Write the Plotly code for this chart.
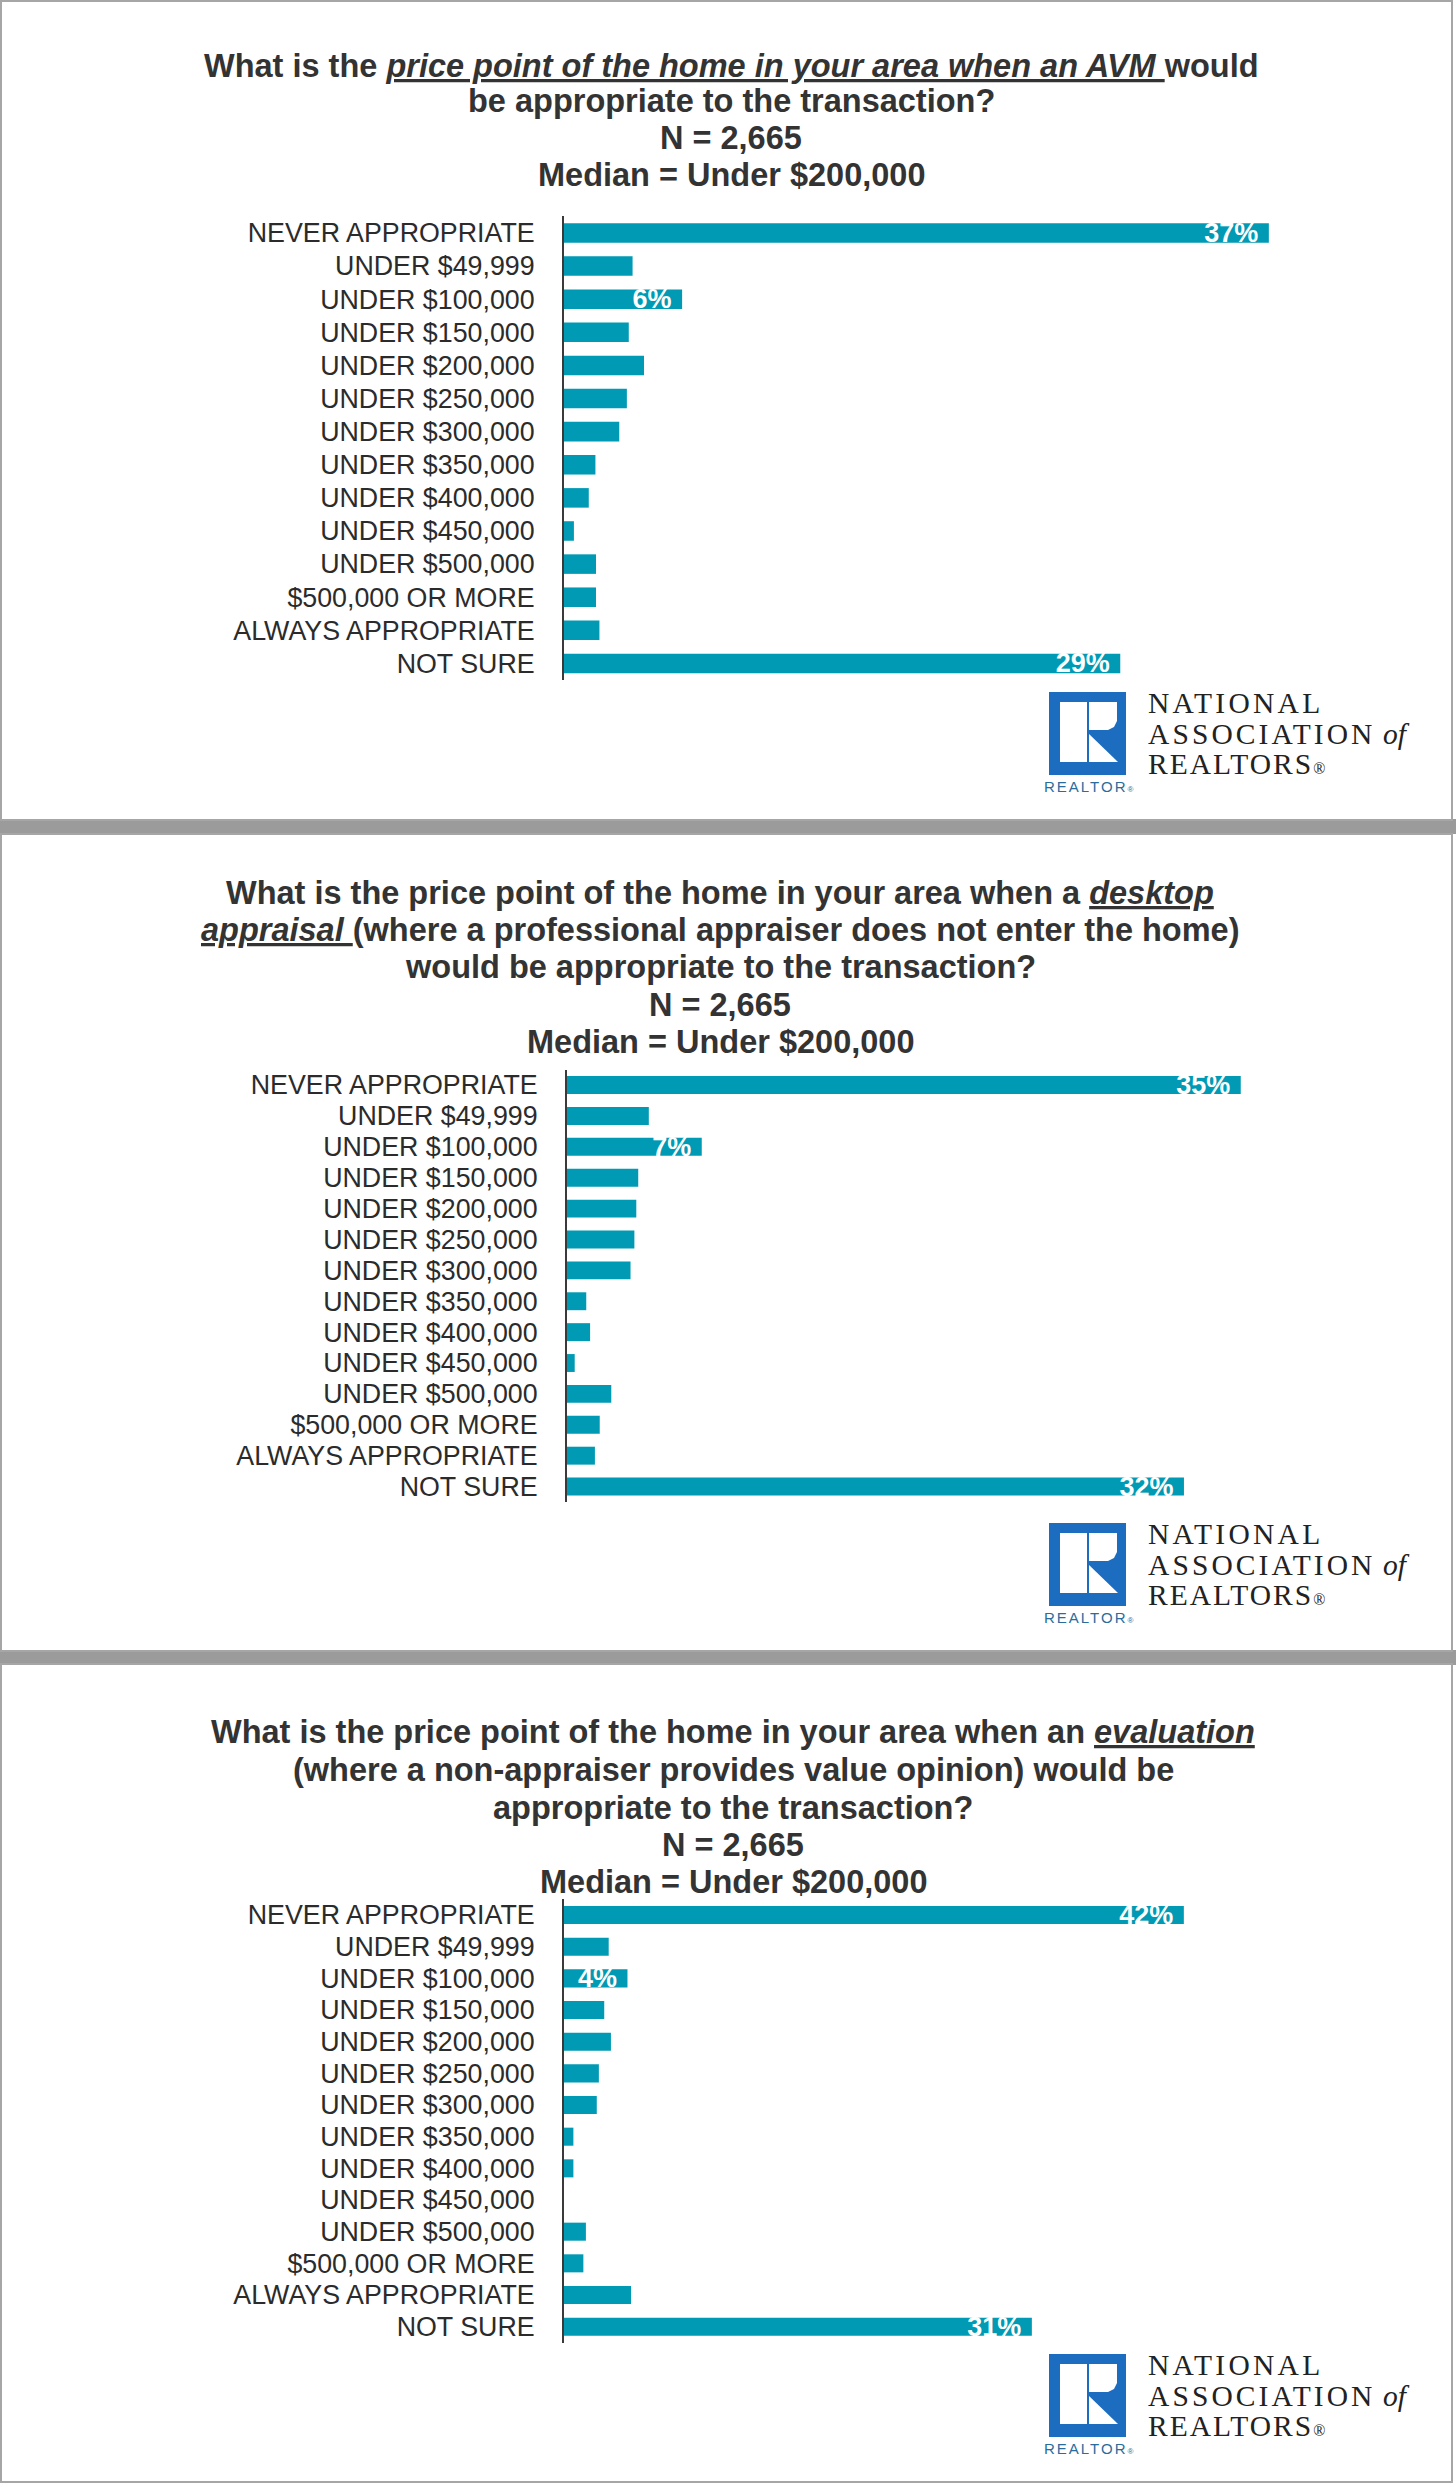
import plotly.graph_objects as go

W, H = 1456, 2485

# ---------------- data ----------------
categories = [
    "NEVER APPROPRIATE", "UNDER $49,999", "UNDER $100,000", "UNDER $150,000",
    "UNDER $200,000", "UNDER $250,000", "UNDER $300,000", "UNDER $350,000",
    "UNDER $400,000", "UNDER $450,000", "UNDER $500,000", "$500,000 OR MORE",
    "ALWAYS APPROPRIATE", "NOT SURE",
]
avm_values = [37.0, 3.6, 6.2, 3.4, 4.2, 3.3, 2.9, 1.65, 1.3, 0.52, 1.68, 1.68, 1.86, 29.2]
desktop_values = [35.0, 4.25, 7.0, 3.7, 3.6, 3.5, 3.3, 1.0, 1.2, 0.4, 2.3, 1.7, 1.45, 32.05]
evaluation_values = [41.6, 3.0, 4.26, 2.7, 3.15, 2.34, 2.2, 0.63, 0.63, 0.0, 1.47, 1.3, 4.5, 31.4]
labeled_categories = ["NEVER APPROPRIATE", "UNDER $100,000", "NOT SURE"]

title_avm = [
    "What is the <i><u>price point of the home in your area when an AVM </u></i>would",
    "be appropriate to the transaction?",
    "N = 2,665",
    "Median = Under $200,000",
]
title_desktop = [
    "What is the price point of the home in your area when a <i><u>desktop</u></i>",
    "<i><u>appraisal </u></i>(where a professional appraiser does not enter the home)",
    "would be appropriate to the transaction?",
    "N = 2,665",
    "Median = Under $200,000",
]
title_evaluation = [
    "What is the price point of the home in your area when an <i><u>evaluation</u></i>",
    "(where a non-appraiser provides value opinion) would be",
    "appropriate to the transaction?",
    "N = 2,665",
    "Median = Under $200,000",
]

# ---------------- styling / layout ----------------
BAR = "#009AB4"
TXT = "#333333"
LBL = "#2b2b2b"
BORDER = "#a6a6a6"
BAND = "#9b9b9b"
LOGO_BLUE = "#1C6DBF"
XMAX = 45


def px(x):
    return x / W


def py(y):
    return 1 - y / H


panels = [
    dict(values=avm_values, title=title_avm, cx=731,
         lines_y=[65.5, 101.5, 138, 175],
         x0=564, scale=19.05, ydom=(216.4, 680), barw=0.59,
         box=(1, 820), logo_top=692),
    dict(values=desktop_values, title=title_desktop, cx=720,
         lines_y=[893, 930, 967, 1005, 1042],
         x0=567, scale=19.25, ydom=(1069.6, 1502), barw=0.58,
         box=(834, 1651), logo_top=1523),
    dict(values=evaluation_values, title=title_evaluation, cx=733,
         lines_y=[1732, 1770, 1808, 1845, 1882],
         x0=564, scale=14.9, ydom=(1899.2, 2342.5), barw=0.57,
         box=(1664, 2482), logo_top=2354),
]

fig = go.Figure()
shapes = []
annotations = []

# gray bands between panels
shapes.append(dict(type="rect", xref="paper", yref="paper", x0=0, x1=1,
                   y0=py(834), y1=py(819), fillcolor=BAND, line=dict(width=0), layer="below"))
shapes.append(dict(type="rect", xref="paper", yref="paper", x0=0, x1=1,
                   y0=py(1665), y1=py(1650), fillcolor=BAND, line=dict(width=0), layer="below"))


def poly(points, ox, oy):
    s = ""
    for i, (a, b) in enumerate(points):
        s += ("M" if i == 0 else "L") + f"{px(ox + a):.6f},{py(oy + b):.6f} "
    return s + "Z"


for i, p in enumerate(panels, start=1):
    xa = "x" if i == 1 else f"x{i}"
    ya = "y" if i == 1 else f"y{i}"
    texts = [f"{round(v)}%\u00a0" if c in labeled_categories else "" for c, v in zip(categories, p["values"])]
    fig.add_trace(go.Bar(
        x=p["values"], y=categories, orientation="h", xaxis=xa, yaxis=ya,
        width=p["barw"],
        marker=dict(color=BAR, line=dict(width=0)),
        text=texts, textposition="inside", insidetextanchor="end",
        constraintext="none", cliponaxis=False,
        textfont=dict(family="Liberation Sans, Arial, sans-serif", size=27, color="white", weight="bold"),
        hoverinfo="skip", showlegend=False,
    ))
    xkey = "xaxis" if i == 1 else f"xaxis{i}"
    ykey = "yaxis" if i == 1 else f"yaxis{i}"
    fig.layout[xkey] = dict(domain=[px(p["x0"]), px(p["x0"] + XMAX * p["scale"])], range=[0, XMAX],
                            showgrid=False, zeroline=False, showline=False,
                            showticklabels=False, ticks="", anchor=ya, fixedrange=True)
    fig.layout[ykey] = dict(domain=[py(p["ydom"][1]), py(p["ydom"][0])], type="category",
                            categoryorder="array", categoryarray=categories,
                            tickmode="array", tickvals=categories, ticktext=categories,
                            range=[13.5, -0.5], showgrid=False, zeroline=False,
                            showline=True, linecolor="#3a3a3a", linewidth=2,
                            ticks="", ticklabelstandoff=22, anchor=xa,
                            tickfont=dict(family="Liberation Sans, Arial, sans-serif", size=26.8, color=LBL),
                            fixedrange=True)
    # panel box
    shapes.append(dict(type="rect", xref="paper", yref="paper", x0=px(1), x1=px(1452),
                       y0=py(p["box"][1]), y1=py(p["box"][0]), fillcolor="white",
                       line=dict(color=BORDER, width=2), layer="below"))
    # title lines
    for line, ly in zip(p["title"], p["lines_y"]):
        annotations.append(dict(text=f"<b>{line}</b>", x=px(p["cx"]), y=py(ly),
                                xref="paper", yref="paper", xanchor="center", yanchor="middle",
                                showarrow=False,
                                font=dict(family="Liberation Sans, Arial, sans-serif", size=32.5, color=TXT)))
    # logo
    top = p["logo_top"]
    ox = 1049
    shapes.append(dict(type="rect", xref="paper", yref="paper", x0=px(ox), x1=px(ox + 77),
                       y0=py(top + 83), y1=py(top), fillcolor=LOGO_BLUE, line=dict(width=0)))
    for pts in ([(11, 10), (38, 10), (38, 70), (11, 70)],
                [(40, 10), (68, 10), (68, 29), (65, 35), (59, 38), (40, 38)],
                [(40, 42), (40, 70), (69, 70)]):
        shapes.append(dict(type="path", xref="paper", yref="paper", path=poly(pts, ox, top),
                           fillcolor="white", line=dict(width=0)))
    annotations.append(dict(text='<span style="letter-spacing:2px">REALTOR</span><span style="font-size:8px">®</span>',
                            x=px(ox + 39), y=py(top + 94), xref="paper", yref="paper",
                            xanchor="center", yanchor="middle", showarrow=False,
                            font=dict(family="Liberation Sans, Arial, sans-serif", size=15, color="#2a6d9c")))
    serif = dict(family="Liberation Serif, Times New Roman, serif", size=29.5, color="#222222")
    for txt, dy in (('<span style="letter-spacing:3.3px">NATIONAL</span>', 11),
                    ('<span style="letter-spacing:3.1px">ASSOCIATION</span> <i>of</i>', 42),
                    ('<span style="letter-spacing:2px">REALTORS</span><span style="font-size:16px">®</span>', 72)):
        annotations.append(dict(text=txt, x=px(1146), y=py(top + dy), xref="paper", yref="paper",
                                xanchor="left", yanchor="middle", showarrow=False, font=serif))

fig.update_layout(
    width=W, height=H, margin=dict(l=0, r=0, t=0, b=0),
    paper_bgcolor="white", plot_bgcolor="rgba(0,0,0,0)",
    shapes=shapes, annotations=annotations, showlegend=False,
)

fig.write_html("out.html", config={"displayModeBar": False},
               post_script="document.body.style.margin='0';")
